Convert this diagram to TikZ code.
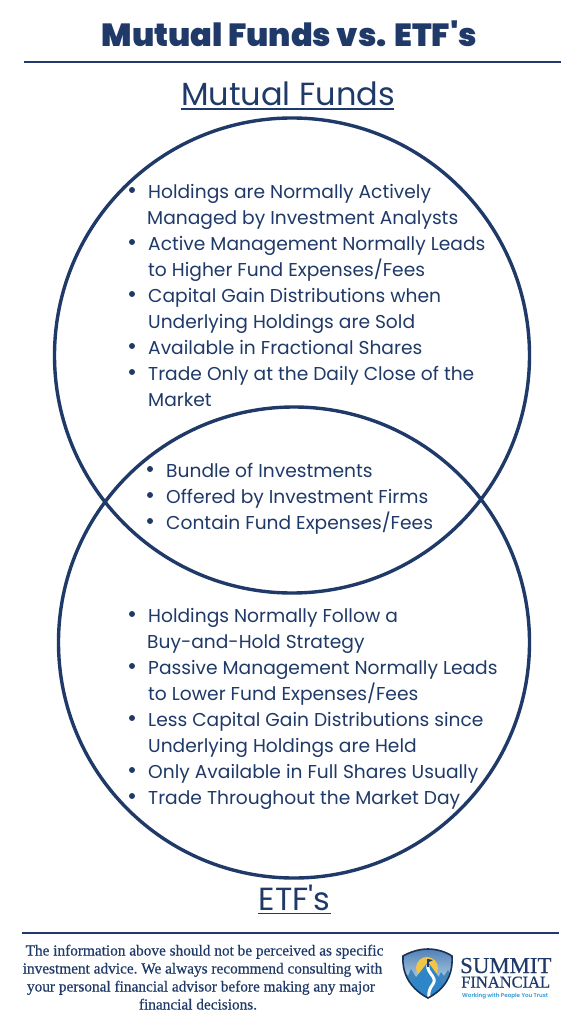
\documentclass[tikz,border=0pt]{standalone}
\usepackage{fontspec}
\setmainfont{Poppins}
\newfontfamily\popreg{Poppins}
\newfontfamily\popblack{Poppins Black}
\newfontfamily\foot[FakeBold=0.5,Ligatures=Common]{Liberation Serif}
\newfontfamily\logoserif[FakeBold=0.4]{Liberation Serif}
\newfontfamily\logosans{Poppins SemiBold}
\definecolor{navy}{HTML}{1F3A68}
\definecolor{logosky}{HTML}{2F9BD8}
\definecolor{logopale}{HTML}{BBD6EA}
\definecolor{logotop}{HTML}{4F7FB5}
\definecolor{logosun}{HTML}{F3C544}
\definecolor{logomid}{HTML}{2E86C8}
\definecolor{logotree}{HTML}{3F86BD}
\tikzset{
  x=1pt,y=-1pt,
  line/.style={anchor=base west,inner sep=0pt,text=navy,font=\fontsize{18.65}{19}\selectfont},
  dot/.style={circle,fill=navy,minimum size=6pt,inner sep=0pt},
  ring/.style={draw=navy,line width=3.4pt},
  rule/.style={draw=navy,line width=1.7pt},
  ftext/.style={anchor=base,inner sep=0pt,text=navy,font=\foot\frenchspacing\fontsize{15.3}{15}\selectfont},
  head/.style={anchor=base,inner sep=0pt,text=navy,font=\popreg\fontsize{32}{32}\selectfont},
}
\def\shieldpath{(428,949) .. controls (437,949) and (446,952) .. (452,956) .. controls (453,970) and (449,987) .. (428,998) .. controls (407,987) and (402,970) .. (403,956) .. controls (410,952) and (419,949) .. (428,949) -- cycle}
\begin{document}
\begin{tikzpicture}
\useasboundingbox (0,0) rectangle (576,1024);
\fill[white] (0,0) rectangle (576,1024);
\node[anchor=base,inner sep=0pt,text=navy,font=\popblack\fontsize{32}{32}\selectfont] (title) at (289.5,47) {Mutual Funds vs. ETF's};
\coordinate (r1a) at (24,62); \coordinate (r1b) at (561,62);
\draw[rule] (r1a) -- (r1b);
\node[head] (mf) at (288,105.5) {Mutual Funds};
\draw[draw=navy,line width=1.9pt] (mf.base west)++(0,3.5) -- ++(213.5,0);
\draw[ring] (292,355.5) circle (237.5);
\draw[ring] (294,642.5) circle (235.5);
% top list
\foreach \y/\x/\t in {198.5/148/{Holdings are Normally Actively},224.5/147/{Managed by Investment Analysts},250.5/148/{Active Management Normally Leads},276.5/148/{to Higher Fund Expenses/Fees},302.5/148/{Capital Gain Distributions when},328.5/148/{Underlying Holdings are Sold},354.5/148/{Available in Fractional Shares},380.5/148/{Trade Only at the Daily Close of the},406.5/148/{Market}}
  \node[line] at (\x,\y) {\t};
\foreach \y in {190,242,294,346,372} \node[dot] at (132,\y) {};
% middle
\foreach \y/\t in {477.5/{Bundle of Investments},503.5/{Offered by Investment Firms},529.5/{Contain Fund Expenses/Fees}}
  \node[line] at (166,\y) {\t};
\foreach \y in {469,495,521} \node[dot] at (150,\y) {};
% bottom list
\foreach \y/\x/\t in {622.5/148/{Holdings Normally Follow a},648.5/147/{Buy-and-Hold Strategy},674.5/148/{Passive Management Normally Leads},700.5/148/{to Lower Fund Expenses/Fees},726.5/148/{Less Capital Gain Distributions since},752.5/148/{Underlying Holdings are Held},778.5/148/{Only Available in Full Shares Usually},804.5/148/{Trade Throughout the Market Day}}
  \node[line] at (\x,\y) {\t};
\foreach \y in {614,666,718,770,796} \node[dot] at (132,\y) {};
\node[head] (etf) at (294.5,910) {ETF's};
\draw[draw=navy,line width=1.9pt] (etf.base west)++(0,3.5) -- (etf.base east |- 0,913.5);
\coordinate (r2a) at (22,933); \coordinate (r2b) at (559,933);
\draw[rule] (r2a) -- (r2b);
% footer
\node[ftext] at (204.5,955.5) {The information above should not be perceived as specific};
\node[ftext] at (202.5,973.5) {investment advice. We always recommend consulting with};
\node[ftext] at (201,991.5) {your personal financial advisor before making any major};
\node[ftext] at (198,1009.5) {financial decisions.};
% logo
\begin{scope}
\path[clip] \shieldpath;
\shade[top color=logotop,bottom color=logopale] (400,948) rectangle (456,985);
\fill[logosun] (427,968) circle (11);
\fill[logotree] (402,982) -- (405,972) -- (408,976) -- (411,969) -- (416,977) -- (420,982) -- (436,982) -- (441,972) -- (444,976) -- (448,970) -- (454,982) -- (454,1000) -- (402,1000) -- cycle;
\fill[logomid] (406,990) -- (428,962) -- (448,990) -- (430,1000) -- cycle;
\draw[white,line width=3pt] (428,965) .. controls (426,973) and (438,977) .. (433,984) .. controls (430,988) and (428,992) .. (429,998);
\end{scope}
\draw[navy,line width=1.1pt] (428,967) -- (428,959);
\fill[navy] (428,959) -- (433,960) -- (428,962.5) -- cycle;
\draw[navy!85!black,line width=1.6pt] \shieldpath;
\node[anchor=base west,inner sep=0pt,text=navy,font=\logoserif\fontsize{22.8}{23}\selectfont] (s1) at (460,973) {SUMMIT};
\node[anchor=base west,inner sep=0pt,text=navy,font=\logoserif\fontsize{16.5}{17}\selectfont] (s2) at (461,987.5) {FINANCIAL};
\node[anchor=base west,inner sep=0pt,text=logosky,font=\logosans\fontsize{5.6}{6}\selectfont] (s3) at (462,997) {Working with People You Trust};
\end{tikzpicture}
\end{document}
